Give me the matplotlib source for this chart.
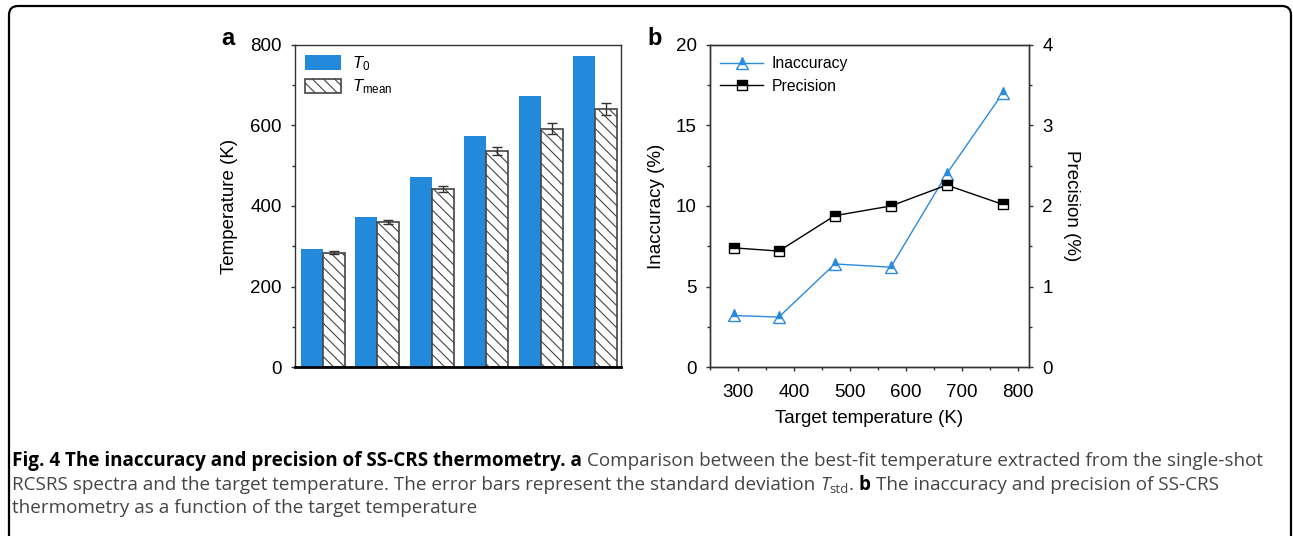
import numpy as np
import matplotlib
matplotlib.use("Agg")
import matplotlib.pyplot as plt
from matplotlib.patches import FancyBboxPatch, Patch
from matplotlib.lines import Line2D
from matplotlib.ticker import MultipleLocator
from matplotlib.transforms import IdentityTransform

# data
target = [293, 373, 473, 573, 673, 773]
t_mean = [284, 360, 442, 537, 592, 641]
t_std = [4, 5, 8, 10, 13, 14]
inaccuracy = [3.2, 3.1, 6.4, 6.2, 12.0, 17.0]
precision = [1.48, 1.44, 1.88, 2.0, 2.26, 2.02]

plt.rcParams["font.family"] = ["Liberation Sans", "DejaVu Sans"]
plt.rcParams["mathtext.fontset"] = "custom"
plt.rcParams["mathtext.rm"] = "Liberation Sans"
plt.rcParams["mathtext.it"] = "Liberation Sans:italic"
plt.rcParams["hatch.linewidth"] = 0.8

W, H = 1293, 536
fig = plt.figure(figsize=(W / 100, H / 100), dpi=100)

blue = "#2389db"
spine_c = "#333333"
fs = 13.5

# ---- panel a ----
ax = fig.add_axes([295 / W, (H - 367) / H, 326 / W, 322 / H])
idx = np.arange(len(target))
bw = 0.405
ax.bar(idx - bw / 2, target, bw, color=blue, linewidth=0)
ax.bar(idx + bw / 2, t_mean, bw, color="white", edgecolor="#444444",
       hatch="\\\\\\", linewidth=1.2)
ax.errorbar(idx + bw / 2, t_mean, yerr=t_std, fmt="none", ecolor="#333333",
            elinewidth=1, capsize=3.5, capthick=1)
ax.set_xlim(-0.51, 5.47)
ax.set_ylim(0, 800)
ax.yaxis.set_major_locator(MultipleLocator(200))
ax.yaxis.set_minor_locator(MultipleLocator(100))
ax.set_xticks([])
ax.tick_params(axis="y", which="major", direction="out", length=3, width=1,
               labelsize=fs, pad=6.5, color=spine_c)
ax.tick_params(axis="y", which="minor", direction="out", length=2, width=1, color=spine_c)
for s in ["left", "top", "right"]:
    ax.spines[s].set_color(spine_c)
    ax.spines[s].set_linewidth(1)
ax.spines["bottom"].set_color("black")
ax.spines["bottom"].set_linewidth(2)
ax.set_ylabel("Temperature (K)", fontsize=fs, labelpad=9)

handles_a = [Patch(facecolor=blue, edgecolor="none"),
             Patch(facecolor="white", edgecolor="#444444", hatch="\\\\\\", linewidth=1.2)]
ax.legend(handles_a, [r"$T_0$", r"$T_{\mathrm{mean}}$"], loc="upper left",
          bbox_to_anchor=(10 / 326, 1 - 9 / 322), frameon=False, fontsize=12,
          borderpad=0, handlelength=2.15, handleheight=0.96, handletextpad=0.66,
          labelspacing=0.3, borderaxespad=0)

# ---- panel b ----
bx = fig.add_axes([710 / W, (H - 367) / H, 319 / W, 322 / H])
bx2 = bx.twinx()
bx.plot(target, inaccuracy, color="#2a8bdc", lw=1, marker="^", ms=8,
        fillstyle="top", markerfacecoloralt="white", mec="#2a8bdc", mew=1)
bx2.plot(target, precision, color="black", lw=1, marker="s", ms=6.5,
         fillstyle="top", markerfacecoloralt="white", mec="black", mew=1)
bx.set_xlim(250, 820)
bx.set_ylim(0, 20)
bx2.set_ylim(0, 4)
bx.xaxis.set_major_locator(MultipleLocator(100))
bx.xaxis.set_minor_locator(MultipleLocator(50))
bx.yaxis.set_major_locator(MultipleLocator(5))
bx.yaxis.set_minor_locator(MultipleLocator(2.5))
bx2.yaxis.set_major_locator(MultipleLocator(1))
bx2.yaxis.set_minor_locator(MultipleLocator(0.5))
bx.tick_params(axis="x", which="major", direction="out", length=3, width=1,
               labelsize=fs, pad=9, color=spine_c)
bx.tick_params(axis="y", which="major", direction="out", length=3, width=1,
               labelsize=fs, pad=6.5, color=spine_c)
bx.tick_params(which="minor", direction="out", length=2, width=1, color=spine_c)
bx2.tick_params(axis="y", which="major", direction="out", length=3, width=1,
                labelsize=fs, pad=6.5, color=spine_c)
bx2.tick_params(axis="y", which="minor", direction="out", length=2, width=1, color=spine_c)
for a in (bx, bx2):
    for s in a.spines.values():
        s.set_color(spine_c)
        s.set_linewidth(1)
bx.set_xlabel("Target temperature (K)", fontsize=fs, labelpad=7)
bx.set_ylabel("Inaccuracy (%)", fontsize=fs, labelpad=8)
bx2.set_ylabel("Precision (%)", fontsize=fs, labelpad=20, rotation=270)

handles_b = [Line2D([], [], color="#2a8bdc", lw=1, marker="^", ms=8, fillstyle="top",
                    markerfacecoloralt="white", mec="#2a8bdc", mew=1),
             Line2D([], [], color="black", lw=1, marker="s", ms=6.5, fillstyle="top",
                    markerfacecoloralt="white", mec="black", mew=1)]
bx.legend(handles_b, ["Inaccuracy", "Precision"], loc="upper left",
          bbox_to_anchor=(10 / 319, 1 - 11 / 322), frameon=False, fontsize=11.3,
          borderpad=0, handlelength=2.74, handletextpad=0.57, labelspacing=0.48,
          borderaxespad=0)

# panel letters
fig.text(221 / W, (H - 45) / H, "a", fontsize=17, fontweight="bold", va="baseline")
fig.text(647 / W, (H - 45) / H, "b", fontsize=17, fontweight="bold", va="baseline")

# rounded frame
frame = FancyBboxPatch((9, -20), 1282, 550, boxstyle="round,pad=0,rounding_size=9",
                       transform=IdentityTransform(), fill=False, lw=1.6, ec="black")
fig.add_artist(frame)

# caption
renderer = fig.canvas.get_renderer()
cap_font = ["Open Sans", "DejaVu Sans"]
cap_size = 13.6
gray = "#454545"


def text_width(s, **kw):
    t = fig.text(0, 0, s, transform=IdentityTransform(), **kw)
    w = t.get_window_extent(renderer).width
    t.remove()
    return w


def put_line(y, parts, x=12):
    for s, kw in parts:
        style = dict(family=cap_font, fontsize=cap_size, color=gray)
        dy = kw.pop("dy", 0)
        style.update(kw)
        fig.text(x, y + dy, s, transform=IdentityTransform(), va="baseline", **style)
        x += text_width(s.rstrip(" "), **style)
        if s.endswith(" "):
            sp = text_width("a a", **style) - text_width("aa", **style)
            x += sp * (len(s) - len(s.rstrip(" ")))


bold = {"fontweight": "bold", "color": "black"}
put_line(H - 466, [
    ("Fig. 4 The inaccuracy and precision of SS-CRS thermometry. a ", dict(bold)),
    ("Comparison between the best-fit temperature extracted from the single-shot", {}),
])
put_line(H - 490, [
    ("RCSRS spectra and the target temperature. The error bars represent the standard deviation ", {}),
    ("T", {"style": "italic"}),
    ("std", {"fontsize": 9.5, "dy": -3}),
    (". ", {}),
    ("b ", dict(bold)),
    ("The inaccuracy and precision of SS-CRS", {}),
])
put_line(H - 513, [
    ("thermometry as a function of the target temperature", {}),
])

fig.savefig("out.png", dpi=100)
